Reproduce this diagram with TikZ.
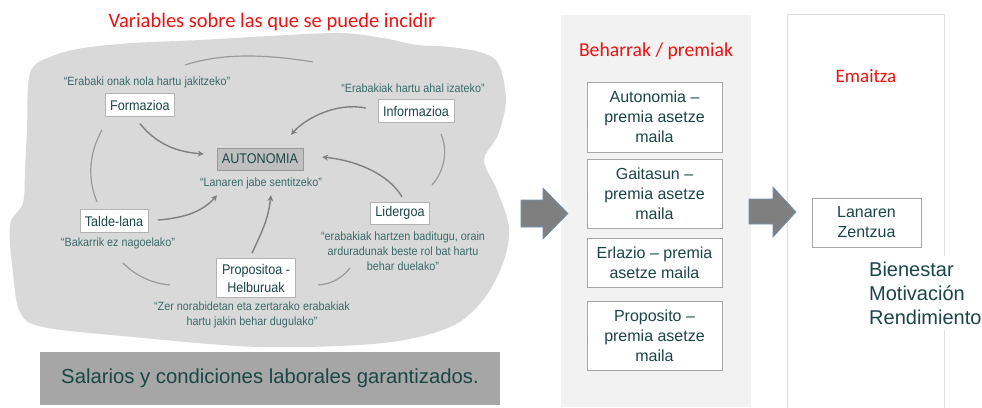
\documentclass[tikz,border=0pt]{standalone}
\usepackage{fontspec}
\setmainfont{Liberation Sans}
\newfontfamily\carl{Carlito}
\newfontfamily\narrowf[FakeStretch=0.9]{Liberation Sans}
\usetikzlibrary{calc,arrows.meta}
\definecolor{blobgray}{HTML}{D9D9D9}
\definecolor{bargray}{HTML}{A6A6A6}
\definecolor{panelgray}{HTML}{F2F2F2}
\definecolor{teal1}{HTML}{1B4646}
\definecolor{teal2}{HTML}{3A6A6A}
\definecolor{tred}{HTML}{EE1111}
\definecolor{arrgray}{HTML}{808080}
\definecolor{arcgray}{HTML}{9A9A9A}
\definecolor{bigarrow}{HTML}{7F7F7F}
\definecolor{bigarrowedge}{HTML}{7090B0}
\definecolor{autofill}{HTML}{BFBFBF}
\begin{document}
\begin{tikzpicture}[x=1pt,y=-1pt,
 lbl/.style={draw=gray!60, fill=white, text=teal1, font=\narrowf\fontsize{14}{18}\selectfont, inner sep=0, align=center},
 quote/.style={text=teal2, font=\narrowf\fontsize{12}{15}\selectfont, align=center, inner sep=0},
 arr/.style={draw=arrgray, line width=1.4pt, -{Stealth[length=6pt,width=6pt]}},
 arcline/.style={draw=arcgray, line width=1.2pt},
 needbox/.style={draw=gray!70, fill=white, text=teal1, font=\fontsize{16}{20}\selectfont, align=center, minimum width=135pt, inner sep=0},
 redtitle/.style={text=tred, font=\carl\fontsize{19}{22}\selectfont, inner sep=0},
 bigarr/.style={fill=bigarrow, draw=bigarrowedge, line width=0.6pt},
]
\useasboundingbox (0,0) rectangle (982,407);
\fill[white] (0,0) rectangle (982,407);
% blob
\fill[blobgray] plot[smooth cycle, tension=0.55] coordinates {
(30,73) (50,57) (83,48) (133,43) (200,40) (270,36) (340,33) (383,38) (417,45) (450,47) (483,53) (499,65)
(506,100) (498,135) (484,160) (497,190) (509,228) (503,263) (483,300) (450,327) (383,343) (260,347)
(133,337) (43,327) (20,312) (13,273) (10,225) (23,203) (25,170) (27,130)};
\node[redtitle, font=\carl\fontsize{20.5}{24}\selectfont] (title) at (272,22) {Variables sobre las que se puede incidir};
% decorative circle arcs
\draw[arcline] (185,65) .. controls (225,52) and (270,55) .. (313,62);
\draw[arcline] (102,130) .. controls (88,155) and (88,180) .. (97,202);
\draw[arcline] (441,134) .. controls (448,150) and (445,170) .. (432,185);
\draw[arcline] (123,263) .. controls (135,275) and (150,283) .. (170,285);
\draw[arcline] (318,285) .. controls (332,284) and (342,278) .. (350,268);
% nodes
\node[lbl, minimum width=69pt, minimum height=23pt] (form) at (140,105) {Formazioa};
\node[quote] (qform) at (147,82) {“Erabaki onak nola hartu jakitzeko”};
\node[lbl, minimum width=76pt, minimum height=23pt] (info) at (416,111) {Informazioa};
\node[quote] (qinfo) at (413,88) {“Erabakiak hartu ahal izateko”};
\node[lbl, fill=autofill, draw=gray!80, minimum width=86pt, minimum height=22pt] (auto) at (260,159) {AUTONOMIA};
\node[quote] (qauto) at (261,183) {“Lanaren jabe sentitzeko”};
\node[lbl, minimum width=68pt, minimum height=23pt] (talde) at (114,221) {Talde-lana};
\node[quote] (qtalde) at (118,243) {“Bakarrik ez nagoelako”};
\node[lbl, minimum width=59pt, minimum height=22pt] (lider) at (400,213) {Lidergoa};
\node[quote] (qlider) at (403,251) {“erabakiak hartzen baditugu, orain\\arduradunak beste rol bat hartu\\behar duelako”};
\node[lbl, minimum width=79pt, minimum height=39pt] (prop) at (256,278) {Propositoa -\\Helburuak};
\node[quote] (qprop) at (252,314.5) {“Zer norabidetan eta zertarako erabakiak\\hartu jakin behar dugulako”};
% connectors
\draw[arr] ($(form.south)+(0,7)$) .. controls +(18,22) and +(-25,-2) .. ($(auto.west)+(-13,-5)$);
\draw[arr] ($(info.west)+(-12,-3)$) .. controls +(-30,-6) and +(14,-16) .. ($(auto.north)+(31,-13)$);
\draw[arr] ($(lider.north)+(2,-5)$) .. controls +(-15,-25) and +(30,3) .. ($(auto.east)+(19,-2)$);
\draw[arr] ($(talde.east)+(10,-1)$) .. controls +(25,-2) and +(-15,17) .. ($(auto.south)+(-43,25)$);
\draw[arr] ($(prop.north)+(-4,-5)$) .. controls +(10,-22) and +(-3,25) .. ($(auto.south)+(11,25)$);
% bottom bar
\node[fill=bargray, minimum width=460pt, minimum height=53pt, inner sep=0, text=teal1, font=\fontsize{20.3}{24}\selectfont] (bar) at (270,378.5) {Salarios y condiciones laborales garantizados.};
% middle panel
\fill[panelgray] (561,15) rectangle (751,407);
\node[redtitle, font=\carl\fontsize{19.7}{22}\selectfont] (tbeh) at (656,51) {Beharrak / premiak};
\node[needbox, minimum height=70pt] (n1) at (654.5,117) {Autonomia –\\premia asetze\\maila};
\node[needbox, minimum height=69pt] (n2) at (654.5,193.5) {Gaitasun –\\premia asetze\\maila};
\node[needbox, minimum height=49pt] (n3) at (654.5,262.5) {Erlazio – premia\\asetze maila};
\node[needbox, minimum height=69pt] (n4) at (654.5,335.5) {Proposito –\\premia asetze\\maila};
% right panel
\draw[draw=gray!25, fill=white] (787,14) rectangle (944,412);
\node[redtitle] (temai) at (866,76) {Emaitza};
\node[needbox, minimum width=109pt, minimum height=49pt] (lan) at (866.5,222.5) {Lanaren\\Zentzua};
\node[fill=white, text=teal1, font=\fontsize{20}{24}\selectfont, align=left, anchor=north west, inner xsep=1pt, inner ysep=6pt] (bien) at (868,255.5) {Bienestar\\Motivación\\Rendimiento};
% block arrows
\filldraw[bigarr] (521,200) -- (543,200) -- (543,188) -- (568,213.5) -- (543,239) -- (543,227) -- (521,227) -- cycle;
\filldraw[bigarr] (749,199) -- (773,199) -- (773,187) -- (796,212) -- (773,237) -- (773,224) -- (749,224) -- cycle;
\end{tikzpicture}
\end{document}
